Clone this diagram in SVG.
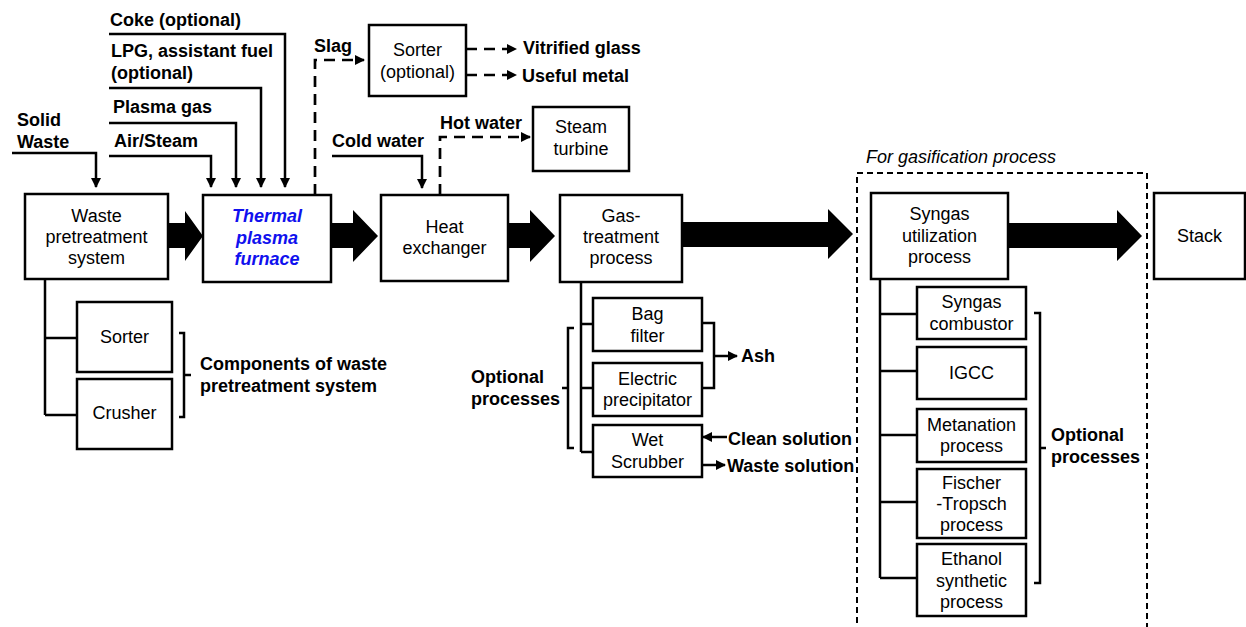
<svg xmlns="http://www.w3.org/2000/svg" width="1246" height="627" viewBox="0 0 1246 627">
<defs>
<marker id="ah" markerWidth="10" markerHeight="10" refX="9" refY="5" orient="auto" markerUnits="userSpaceOnUse">
<path d="M0,0 L10,5 L0,10 Z" fill="#000"/>
</marker>
<style>
.box{fill:#fff;stroke:#000;stroke-width:2.5}
.t{font-family:"Liberation Sans",Arial,sans-serif;font-size:18px;fill:#000;text-anchor:middle}
.lb{font-family:"Liberation Sans",Arial,sans-serif;font-size:18px;font-weight:bold;fill:#000}
.ln{fill:none;stroke:#000;stroke-width:2.5}
.dash{fill:none;stroke:#000;stroke-width:2.7;stroke-dasharray:11,7}
.big{fill:#000}
</style>
</defs>
<rect width="1246" height="627" fill="#fff"/>

<g id="connectors">
<!-- block arrows -->
<polygon class="big" points="168,223 185,223 185,211 203,236 185,261 185,248 168,248"/>
<polygon class="big" points="331,223 353,223 353,210 378,236 353,262 353,248 331,248"/>
<polygon class="big" points="508,223 530,223 530,210 555,236 530,262 530,248 508,248"/>
<polygon class="big" points="682,222 828,222 828,209 853,234 828,259 828,247 682,247"/>
<polygon class="big" points="1008,223 1117,223 1117,210 1142,236 1117,261 1117,248 1008,248"/>
<!-- inputs -->
<path class="ln" d="M12,153 H96 V187" marker-end="url(#ah)"/>
<path class="ln" d="M109,156 H211 V187" marker-end="url(#ah)"/>
<path class="ln" d="M109,123 H236 V187" marker-end="url(#ah)"/>
<path class="ln" d="M109,88 H261 V187" marker-end="url(#ah)"/>
<path class="ln" d="M109,34 H285 V187" marker-end="url(#ah)"/>
<path class="ln" d="M332,156 H422 V188" marker-end="url(#ah)"/>
<!-- dashed -->
<path class="dash" d="M315,195 V60 H364" marker-end="url(#ah)"/>
<path class="dash" d="M466,49 H516" marker-end="url(#ah)"/>
<path class="dash" d="M466,75 H516" marker-end="url(#ah)"/>
<path class="dash" d="M440,195 V137 H530" marker-end="url(#ah)"/>
<!-- waste pretreatment tree -->
<path class="ln" d="M45,279 V415 M45,338 H77 M45,415 H77"/>
<path class="ln" d="M179,333 H184 V417 H179 M184,375 H191"/>
<!-- gas treatment tree -->
<path class="ln" d="M581,282 V452 M581,324 H593 M581,388 H593 M581,452 H593"/>
<path class="ln" d="M574,328 H568 V448 H574 M568,388 H562"/>
<path class="ln" d="M702,323 H714 V388 H702"/>
<path class="ln" d="M714,356 H737" marker-end="url(#ah)"/>
<path class="ln" d="M727,437 H703" marker-end="url(#ah)"/>
<path class="ln" d="M702,465 H725" marker-end="url(#ah)"/>
<!-- syngas tree -->
<path class="ln" d="M880,279 V578 M880,314 H917 M880,371 H917 M880,435 H917 M880,502 H917 M880,578 H917"/>
<path class="ln" d="M1034,313 H1040 V583 H1034 M1040,448 H1046"/>
<!-- dashed region -->
<rect x="857" y="173" width="290" height="480" fill="none" stroke="#000" stroke-width="2" stroke-dasharray="6,4"/>
</g>

<g id="labels">
<text class="lb" x="17" y="126">Solid</text>
<text class="lb" x="17" y="148">Waste</text>
<text class="lb" x="110" y="26">Coke (optional)</text>
<text class="lb" x="111" y="57">LPG, assistant fuel</text>
<text class="lb" x="111" y="79">(optional)</text>
<text class="lb" x="113" y="113">Plasma gas</text>
<text class="lb" x="114" y="147">Air/Steam</text>
<text class="lb" x="314" y="52">Slag</text>
<text class="lb" x="523" y="54">Vitrified glass</text>
<text class="lb" x="522" y="82">Useful metal</text>
<text class="lb" x="440" y="129">Hot water</text>
<text class="lb" x="332" y="147">Cold water</text>
<text class="lb" x="200" y="370">Components of waste</text>
<text class="lb" x="200" y="392">pretreatment system</text>
<text class="lb" x="471" y="383">Optional</text>
<text class="lb" x="471" y="405">processes</text>
<text class="lb" x="741" y="362">Ash</text>
<text class="lb" x="728" y="445">Clean solution</text>
<text class="lb" x="727" y="472">Waste solution</text>
<text class="lb" x="1051" y="441">Optional</text>
<text class="lb" x="1051" y="463">processes</text>
<text x="866" y="163" style="font-family:'Liberation Sans',Arial,sans-serif;font-size:18px;font-style:italic">For gasification process</text>
</g>

<g id="waste-pretreatment">
<rect class="box" x="25" y="194" width="143" height="85"/>
<text class="t" x="96.5" y="222">Waste</text>
<text class="t" x="96.5" y="243">pretreatment</text>
<text class="t" x="96.5" y="264">system</text>
</g>
<g id="furnace">
<rect class="box" x="203" y="195" width="128" height="87"/>
<text class="t" x="267" y="222" style="font-weight:bold;font-style:italic;fill:#1010ee">Thermal</text>
<text class="t" x="267" y="244" style="font-weight:bold;font-style:italic;fill:#1010ee">plasma</text>
<text class="t" x="267" y="265" style="font-weight:bold;font-style:italic;fill:#1010ee">furnace</text>
</g>
<g id="sorter-optional">
<rect class="box" x="369" y="25" width="97" height="71"/>
<text class="t" x="417.5" y="56">Sorter</text>
<text class="t" x="417.5" y="78">(optional)</text>
</g>
<g id="steam-turbine">
<rect class="box" x="533" y="107" width="96" height="64"/>
<text class="t" x="581" y="133">Steam</text>
<text class="t" x="581" y="155">turbine</text>
</g>
<g id="heat-exchanger">
<rect class="box" x="381" y="195" width="127" height="86"/>
<text class="t" x="444.5" y="233">Heat</text>
<text class="t" x="444.5" y="254">exchanger</text>
</g>
<g id="gas-treatment">
<rect class="box" x="560" y="195" width="122" height="87"/>
<text class="t" x="621" y="222">Gas-</text>
<text class="t" x="621" y="243">treatment</text>
<text class="t" x="621" y="264">process</text>
</g>
<g id="syngas-utilization">
<rect class="box" x="871" y="193" width="137" height="86"/>
<text class="t" x="939.5" y="220">Syngas</text>
<text class="t" x="939.5" y="242">utilization</text>
<text class="t" x="939.5" y="263">process</text>
</g>
<g id="stack">
<rect class="box" x="1154" y="193" width="91" height="86"/>
<text class="t" x="1199.5" y="242">Stack</text>
</g>
<g id="sorter">
<rect class="box" x="77" y="302" width="95" height="70"/>
<text class="t" x="124.5" y="343">Sorter</text>
</g>
<g id="crusher">
<rect class="box" x="77" y="379" width="95" height="70"/>
<text class="t" x="124.5" y="419">Crusher</text>
</g>
<g id="bag-filter">
<rect class="box" x="593" y="298" width="109" height="53"/>
<text class="t" x="647.5" y="320">Bag</text>
<text class="t" x="647.5" y="342">filter</text>
</g>
<g id="electric-precipitator">
<rect class="box" x="593" y="363" width="109" height="53"/>
<text class="t" x="647.5" y="385">Electric</text>
<text class="t" x="647.5" y="406">precipitator</text>
</g>
<g id="wet-scrubber">
<rect class="box" x="593" y="425" width="109" height="52"/>
<text class="t" x="647.5" y="446">Wet</text>
<text class="t" x="647.5" y="468">Scrubber</text>
</g>
<g id="syngas-combustor">
<rect class="box" x="917" y="287" width="109" height="52"/>
<text class="t" x="971.5" y="308">Syngas</text>
<text class="t" x="971.5" y="330">combustor</text>
</g>
<g id="igcc">
<rect class="box" x="917" y="347" width="109" height="52"/>
<text class="t" x="971.5" y="379">IGCC</text>
</g>
<g id="metanation">
<rect class="box" x="917" y="409" width="109" height="53"/>
<text class="t" x="971.5" y="431">Metanation</text>
<text class="t" x="971.5" y="452">process</text>
</g>
<g id="fischer-tropsch">
<rect class="box" x="917" y="469" width="109" height="69"/>
<text class="t" x="971.5" y="489">Fischer</text>
<text class="t" x="971.5" y="510">-Tropsch</text>
<text class="t" x="971.5" y="531">process</text>
</g>
<g id="ethanol">
<rect class="box" x="917" y="544" width="109" height="72"/>
<text class="t" x="971.5" y="565">Ethanol</text>
<text class="t" x="971.5" y="587">synthetic</text>
<text class="t" x="971.5" y="608">process</text>
</g>
</svg>
